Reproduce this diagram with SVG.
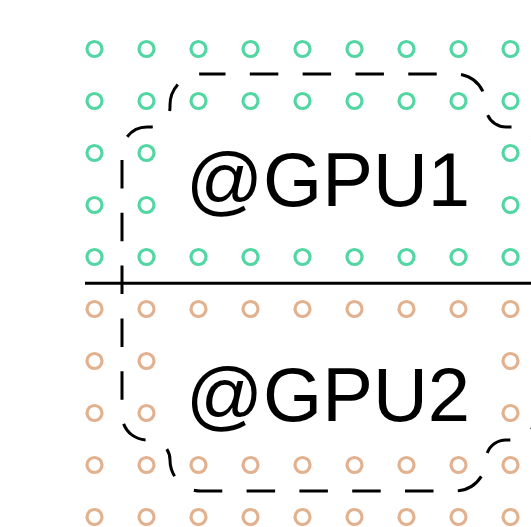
<svg xmlns="http://www.w3.org/2000/svg" xmlns:xlink="http://www.w3.org/1999/xlink" width="531" height="527" viewBox="0 0 531 527">
<style>
.g1{fill:none;stroke:#52d6a2;stroke-width:3.2}
.g2{fill:none;stroke:#e2b18f;stroke-width:3.2}
.divider{stroke:#000;stroke-width:3;fill:none}
.outline{fill:none;stroke:#000;stroke-width:3;stroke-dasharray:28.5 24.311;stroke-dashoffset:4}
.box{fill:#fff;stroke:none}
.label{font-family:"Liberation Sans",Arial,sans-serif;font-size:76px;fill:#000;text-anchor:middle}
</style>
<defs>
<g id="row1">
<circle class="g1" cx="94.5" cy="0" r="7.5"/><circle class="g1" cx="146.5" cy="0" r="7.5"/><circle class="g1" cx="198.5" cy="0" r="7.5"/><circle class="g1" cx="250.5" cy="0" r="7.5"/><circle class="g1" cx="302.5" cy="0" r="7.5"/><circle class="g1" cx="354.5" cy="0" r="7.5"/><circle class="g1" cx="406.5" cy="0" r="7.5"/><circle class="g1" cx="458.5" cy="0" r="7.5"/><circle class="g1" cx="510.5" cy="0" r="7.5"/>
</g>
<g id="row2">
<circle class="g2" cx="94.5" cy="0" r="7.5"/><circle class="g2" cx="146.5" cy="0" r="7.5"/><circle class="g2" cx="198.5" cy="0" r="7.5"/><circle class="g2" cx="250.5" cy="0" r="7.5"/><circle class="g2" cx="302.5" cy="0" r="7.5"/><circle class="g2" cx="354.5" cy="0" r="7.5"/><circle class="g2" cx="406.5" cy="0" r="7.5"/><circle class="g2" cx="458.5" cy="0" r="7.5"/><circle class="g2" cx="510.5" cy="0" r="7.5"/>
</g>
</defs>
<g id="grid-gpu1">
<use xlink:href="#row1" href="#row1" y="49"/>
<use xlink:href="#row1" href="#row1" y="101"/>
<use xlink:href="#row1" href="#row1" y="153"/>
<use xlink:href="#row1" href="#row1" y="205"/>
<use xlink:href="#row1" href="#row1" y="257"/>
</g>
<g id="grid-gpu2">
<use xlink:href="#row2" href="#row2" y="309"/>
<use xlink:href="#row2" href="#row2" y="361"/>
<use xlink:href="#row2" href="#row2" y="413"/>
<use xlink:href="#row2" href="#row2" y="465"/>
<use xlink:href="#row2" href="#row2" y="517"/>
</g>
<g id="connectors">
<line class="divider" x1="85" y1="283.3" x2="531" y2="283.3"/>
</g>
<g id="group-outline">
<path class="outline" d="M201,74 H455 A31,31 0 0 1 486,105 V107 A20,20 0 0 0 506,127 H511 A25,25 0 0 1 536,152 V415 A25,25 0 0 1 511,440 H506 A20,20 0 0 0 486,460 A31,31 0 0 1 455,491 H201 A31,31 0 0 1 170,460 A20,20 0 0 0 150,440 H147 A25,25 0 0 1 122,415 V152 A25,25 0 0 1 147,127 H150 A20,20 0 0 0 170,107 V105 A31,31 0 0 1 201,74 Z"/>
</g>
<g id="label-gpu1">
<rect class="box" x="170" y="127" width="316" height="109"/>
<text class="label" x="328" y="206">@GPU1</text>
</g>
<g id="label-gpu2">
<rect class="box" x="170" y="331" width="316" height="109"/>
<text class="label" x="328" y="421">@GPU2</text>
</g>
</svg>
